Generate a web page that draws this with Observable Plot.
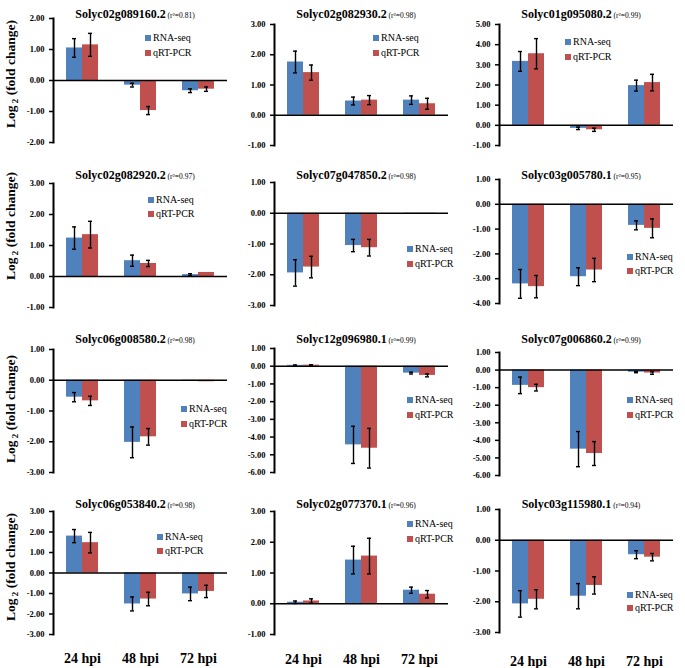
<!DOCTYPE html>
<html>
<head>
<meta charset="utf-8">
<script src="https://cdn.jsdelivr.net/npm/d3@7"></script>
<script src="https://cdn.jsdelivr.net/npm/@observablehq/plot@0.6"></script>
<style>
  body { margin: 0; background: #fff; }
  #chart { position: relative; width: 685px; height: 668px; background: #fff;
           font-family: "Liberation Serif", "Times New Roman", serif; color: #000; overflow: hidden; }
  #chart svg { background: transparent !important; max-width: none !important; }
  #chart svg, #chart svg text { font-family: "Liberation Serif", "Times New Roman", serif !important; }
  .abs { position: absolute; white-space: nowrap; line-height: 1; font-family: "Liberation Serif", "Times New Roman", serif; }
</style>
</head>
<body>
<div id="chart"></div>
<script>
// ---------------- DATA ----------------
const genes = ["Solyc02g089160.2", "Solyc02g082930.2", "Solyc01g095080.2",
               "Solyc02g082920.2", "Solyc07g047850.2", "Solyc03g005780.1",
               "Solyc06g008580.2", "Solyc12g096980.1", "Solyc07g006860.2",
               "Solyc06g053840.2", "Solyc02g077370.1", "Solyc03g115980.1"];
const r2Values = ["0.81", "0.98", "0.99", "0.97", "0.98", "0.95",
                  "0.98", "0.99", "0.99", "0.98", "0.96", "0.94"];
const timepoints = ["24 hpi", "48 hpi", "72 hpi"];
const seriesNames = ["RNA-seq", "qRT-PCR"];
const rnaSeq = [
  [1.05, -0.15, -0.33], [1.76, 0.47, 0.50], [3.17, -0.15, 1.97],
  [1.24, 0.51, 0.06], [-1.94, -1.05, -0.01], [-3.21, -2.92, -0.85],
  [-0.55, -2.02, -0.01], [0.05, -4.44, -0.39], [-0.87, -4.50, -0.12],
  [1.80, -1.51, -1.02], [0.05, 1.42, 0.44], [-2.07, -1.82, -0.47]
];
const rnaSeqErr = [
  [0.30, 0.06, 0.06], [0.36, 0.13, 0.14], [0.49, 0.06, 0.27],
  [0.36, 0.18, 0.03], [0.43, 0.20, 0], [0.58, 0.36, 0.18],
  [0.15, 0.50, 0], [0.02, 1.05, 0.05], [0.47, 1.00, 0.03],
  [0.32, 0.34, 0.33], [0.04, 0.45, 0.10], [0.43, 0.41, 0.13]
];
const qrtPcr = [
  [1.15, -0.97, -0.28], [1.41, 0.50, 0.38], [3.55, -0.22, 2.12],
  [1.35, 0.42, 0.13], [-1.75, -1.12, -0.04], [-3.32, -2.65, -0.97],
  [-0.67, -1.84, -0.05], [0.06, -4.63, -0.52], [-1.00, -4.75, -0.17],
  [1.48, -1.27, -0.90], [0.09, 1.55, 0.31], [-1.92, -1.47, -0.55]
];
const qrtPcrErr = [
  [0.37, 0.13, 0.07], [0.25, 0.15, 0.18], [0.75, 0.08, 0.41],
  [0.43, 0.10, 0], [0.35, 0.27, 0], [0.45, 0.47, 0.38],
  [0.15, 0.27, 0], [0.02, 1.12, 0.08], [0.19, 0.68, 0.07],
  [0.50, 0.33, 0.30], [0.07, 0.58, 0.12], [0.31, 0.28, 0.12]
];
const yMin = [-2, -1, -1, -1, -3, -4, -3, -6, -6, -3, -1, -3];
const yMax = [2, 3, 5, 3, 1, 1, 1, 1, 1, 3, 3, 1];
const yLabelText = "Log";

// ---------------- LAYOUT ----------------
const colors = ["#4F81BD", "#C0504D"];
const colLeft = [0, 228, 456];
const colAxis = [52, 274, 499];
const colRight = [228, 448, 673];
const rowTop = [0, 160, 320, 480];
const rowHeight = [160, 160, 160, 188];
const plotTop = [18, 24, 24, 183, 182, 179, 349, 348, 352, 511, 511, 509];
const plotBottom = [142, 145, 145, 307, 305, 303, 472, 472, 475, 634, 634, 632];
const legendPos = [[145, 38, 53], [373, 38, 53], [565, 42, 57],
                   [148, 200, 214], [407, 249, 264], [627, 257, 271],
                   [181, 409, 424], [407, 400, 415], [627, 400, 415],
                   [157, 537, 551], [407, 524, 539], [627, 595, 608]];
const titleY = [13, 174, 338, 503];
const yLabelY = [74, 226, 409, 567];
const xLabelBaseline = [662, 663, 665];

const chart = document.getElementById("chart");

function addDiv(html, style) {
  const d = document.createElement("div");
  d.className = "abs";
  d.innerHTML = html;
  Object.assign(d.style, style);
  chart.appendChild(d);
  return d;
}

for (let i = 0; i < genes.length; i++) {
  const r = Math.floor(i / 3), c = i % 3;
  const rows = timepoints.flatMap((t, k) => [
    {time: t, series: seriesNames[0], value: rnaSeq[i][k], err: rnaSeqErr[i][k]},
    {time: t, series: seriesNames[1], value: qrtPcr[i][k], err: qrtPcrErr[i][k]}
  ]);
  const errRows = rows.filter(d => d.err > 0);
  const W = colRight[c] - colLeft[c];
  const H = rowHeight[r];
  const isBottom = r === 3;
  const ticks = d3.range(yMin[i], yMax[i] + 0.001, 1);
  const fxPad = isBottom ? xLabelBaseline[c] - plotBottom[i] - 0.71 * 14 : 0;

  const marks = [
    Plot.barY(rows, {fx: "time", x: "series", y: "value", fill: "series"}),
    Plot.ruleX(errRows, {fx: "time", x: "series", y1: d => d.value - d.err, y2: d => d.value + d.err,
                         stroke: "#000", strokeWidth: 1.4}),
    Plot.tickY(errRows, {fx: "time", x: "series", y: d => d.value - d.err, insetLeft: 6, insetRight: 6,
                         stroke: "#000", strokeWidth: 1.4}),
    Plot.tickY(errRows, {fx: "time", x: "series", y: d => d.value + d.err, insetLeft: 6, insetRight: 6,
                         stroke: "#000", strokeWidth: 1.4}),
    Plot.ruleY([0], {stroke: "#000", strokeWidth: 1.5}),
    Plot.frame({anchor: "left", facetAnchor: "left", stroke: "#000", strokeWidth: 2}),
    Plot.axisY({ticks, tickFormat: d => d.toFixed(2), tickSize: 4, tickPadding: 5,
                fontSize: 8.5, fontWeight: "bold", label: null, strokeWidth: 1.5})
  ];
  if (isBottom) {
    marks.push(Plot.axisFx({anchor: "bottom", tickSize: 0, tickPadding: fxPad, fontSize: 14,
                            fontWeight: "bold", label: null}));
  }

  const svg = Plot.plot({
    width: W,
    height: H,
    marginLeft: colAxis[c] - colLeft[c],
    marginRight: 0,
    marginTop: plotTop[i] - rowTop[r],
    marginBottom: H - (plotBottom[i] - rowTop[r]),
    style: {fontFamily: "'Liberation Serif', 'Times New Roman', serif", color: "#000", background: "transparent"},
    fx: {domain: timepoints, padding: 0, axis: null, label: null},
    x: {domain: seriesNames, paddingInner: 0, paddingOuter: 0.72, axis: null},
    y: {domain: [yMin[i], yMax[i]], axis: null},
    color: {domain: seriesNames, range: colors},
    marks
  });
  const holder = document.createElement("div");
  holder.style.position = "absolute";
  holder.style.left = colLeft[c] + "px";
  holder.style.top = rowTop[r] + "px";
  holder.appendChild(svg);
  chart.appendChild(holder);

  // title
  const cx = (colAxis[c] + colRight[c]) / 2 - 5;
  addDiv(`<b style="font-size:12px">${genes[i]}</b><span style="font-size:7.5px"> (r²=${r2Values[i]})</span>`,
    {left: cx + "px", top: titleY[r] + "px", transform: "translate(-50%,-50%)"});

  // legend
  const [lx, ly1, ly2] = legendPos[i];
  [ly1, ly2].forEach((ly, s) => {
    addDiv(`<span style="display:inline-block;width:6px;height:6px;background:${colors[s]};margin-right:2px"></span>${seriesNames[s]}`,
      {left: lx + "px", top: ly + "px", transform: "translateY(-50%)", fontSize: "10px",
       display: "flex", alignItems: "center"});
  });

  // y label on first column
  if (c === 0) {
    addDiv(`<b style="font-size:13.5px">${yLabelText}<span style="font-size:9px;position:relative;top:3px"> 2</span> (fold change)</b>`,
      {left: "10px", top: yLabelY[r] + "px", transform: "translate(-50%,-50%) rotate(-90deg)"});
  }
}
</script>
</body>
</html>
